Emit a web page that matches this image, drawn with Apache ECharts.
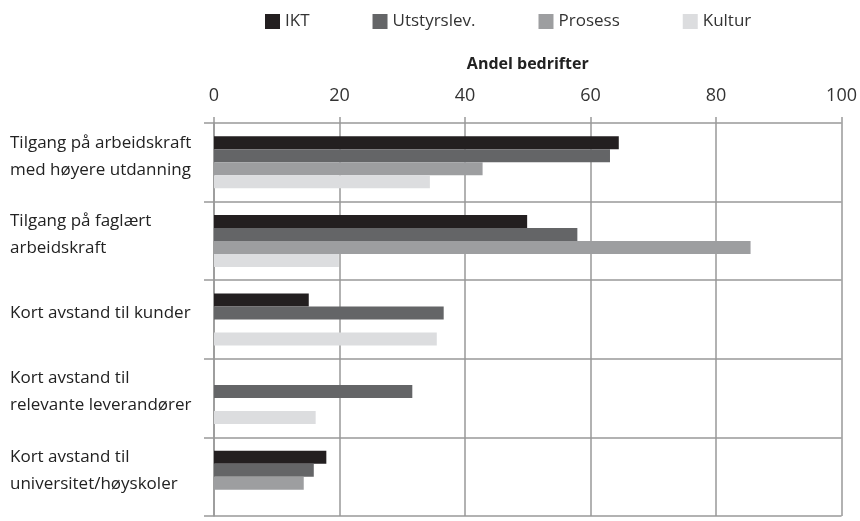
<!DOCTYPE html>
<html>
<head>
<meta charset="utf-8">
<script src="https://cdn.jsdelivr.net/npm/echarts@6/dist/echarts.min.js"></script>
<style>
  html, body { margin: 0; padding: 0; background: #fff; }
  #main { width: 860px; height: 521px; }
</style>
</head>
<body>
<div id="main"></div>
<script>
var categories = [
    'Tilgang på arbeidskraft\nmed høyere utdanning',
    'Tilgang på faglært\narbeidskraft',
    'Kort avstand til kunder',
    'Kort avstand til\nrelevante leverandører',
    'Kort avstand til\nuniversitet/høyskoler'
];
var ikt = [64.5, 49.9, 15.1, null, 17.9];
var utstyrslev = [63.1, 57.9, 36.6, 31.6, 15.9];
var prosess = [42.8, 85.5, null, null, 14.3];
var kultur = [34.4, 19.9, 35.5, 16.2, null];
var xTicks = [0, 20, 40, 60, 80, 100];

var colors = ['#231f20', '#646567', '#9d9ea0', '#dcdddf'];
var fontFamily = '"Open Sans", sans-serif';

var myChart = echarts.init(document.getElementById('main'));

function bar(name, data) {
    return {
        name: name,
        type: 'bar',
        data: data,
        barWidth: 13,
        barGap: '0%',
        barCategoryGap: '33%'
    };
}

var option = {
    color: colors,
    animation: false,
    textStyle: { fontFamily: fontFamily },
    legend: {
        top: 8,
        left: 260,
        icon: 'rect',
        itemWidth: 15,
        itemHeight: 15,
        itemGap: 63,
        textStyle: { fontSize: 17, color: '#333', fontFamily: fontFamily },
        data: ['IKT', 'Utstyrslev.', 'Prosess', 'Kultur']
    },
    grid: {
        left: 214,
        right: 12,
        top: 123,
        bottom: 5
    },
    xAxis: {
        type: 'value',
        position: 'top',
        min: xTicks[0],
        max: xTicks[xTicks.length - 1],
        interval: 20,
        name: 'Andel bedrifter',
        nameLocation: 'middle',
        nameGap: 51,
        nameTextStyle: { fontSize: 16, fontWeight: 'bold', color: '#222', fontFamily: fontFamily },
        axisLine: { show: false },
        axisTick: { show: true, length: 6, lineStyle: { color: '#999', width: 1.5 } },
        axisLabel: { fontSize: 18, color: '#333', margin: 18 },
        splitLine: { lineStyle: { color: '#999', width: 1.5 } }
    },
    yAxis: {
        type: 'category',
        inverse: true,
        data: categories,
        axisLine: { show: true, lineStyle: { color: '#999', width: 1.5 } },
        axisTick: { show: true, length: 10, lineStyle: { color: '#999', width: 1.5 } },
        splitLine: { show: true, lineStyle: { color: '#999', width: 1.5 } },
        axisLabel: {
            align: 'left',
            margin: 204,
            fontSize: 17,
            lineHeight: 27,
            color: '#222',
            // extra empty line at the bottom lifts the labels a bit, like the original
            formatter: function (value) {
                return value + '\n{gap| }';
            },
            rich: {
                gap: { fontSize: 6, lineHeight: 12 }
            }
        }
    },
    series: [
        bar('IKT', ikt),
        bar('Utstyrslev.', utstyrslev),
        bar('Prosess', prosess),
        bar('Kultur', kultur)
    ]
};

myChart.setOption(option);
</script>
</body>
</html>
